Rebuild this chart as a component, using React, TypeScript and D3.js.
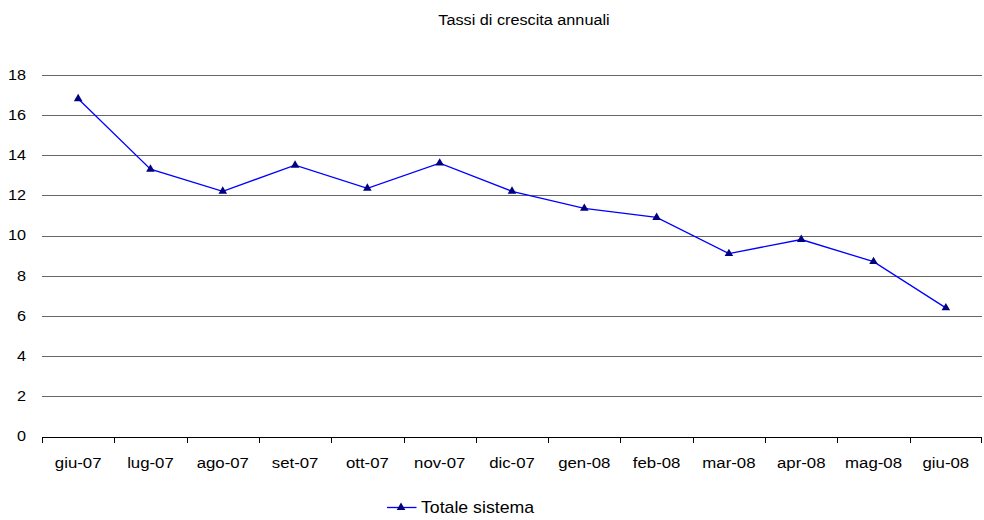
import React from "react";
import * as d3 from "d3";

const categories = ["giu-07","lug-07","ago-07","set-07","ott-07","nov-07","dic-07","gen-08","feb-08","mar-08","apr-08","mag-08","giu-08"];
const values = [16.8, 13.3, 12.2, 13.5, 12.35, 13.6, 12.2, 11.35, 10.9, 9.1, 9.8, 8.7, 6.4];
const yTicks = [0, 2, 4, 6, 8, 10, 12, 14, 16, 18];
const title = "Tassi di crescita annuali";
const seriesName = "Totale sistema";

const W = 984, H = 520;
const left = 42, right = 982, top = 74.7, bottom = 436.5;

export default function App() {
  const x = d3.scaleBand<string>().domain(categories).range([left, right]);
  const y = d3.scaleLinear().domain([0, 18]).range([bottom, top]);
  const line = d3.line<number>().x((_, i) => (x(categories[i]) as number) + x.bandwidth() / 2).y(d => y(d));
  const tri = d3.symbol().type(d3.symbolTriangle).size(32);
  const font = "Liberation Sans, Arial, sans-serif";
  const sx = 1.12;
  return (
    <svg width={W} height={H} style={{ position: "absolute", left: 0, top: 0, background: "#fff" }} fontFamily={font}>
      <text transform={`translate(524,25) scale(${sx},1)`} fontSize={14.5} textAnchor="middle" fill="#000">{title}</text>
      {yTicks.filter(t => t > 0).map(t => (
        <line key={t} x1={left} x2={right} y1={Math.round(y(t)) + 0.5} y2={Math.round(y(t)) + 0.5} stroke="#666" strokeWidth={1} />
      ))}
      <line x1={left} x2={right} y1={Math.round(bottom) + 0.5} y2={Math.round(bottom) + 0.5} stroke="#000" strokeWidth={1} />
      {categories.map((c, i) => (
        <line key={c} x1={Math.round(x(c) as number) + 0.5} x2={Math.round(x(c) as number) + 0.5} y1={Math.round(bottom)} y2={Math.round(bottom) + 6} stroke="#000" />
      ))}
      <line x1={right - 0.5} x2={right - 0.5} y1={Math.round(bottom)} y2={Math.round(bottom) + 6} stroke="#000" />
      {yTicks.map(t => (
        <text key={t} transform={`translate(26,${y(t) + 4.8}) scale(${sx},1)`} fontSize={14.5} textAnchor="end" fill="#000">{t}</text>
      ))}
      {categories.map(c => (
        <text key={c} transform={`translate(${(x(c) as number) + x.bandwidth() / 2},467.5) scale(${sx},1)`} fontSize={15} textAnchor="middle" fill="#000">{c}</text>
      ))}
      <path d={line(values) || ""} fill="none" stroke="#0000ff" strokeWidth={1.3} />
      {values.map((v, i) => (
        <path key={i} d={tri() || ""} transform={`translate(${(x(categories[i]) as number) + x.bandwidth() / 2},${y(v)})`} fill="#000080" />
      ))}
      <line x1={387} x2={416.5} y1={507.5} y2={507.5} stroke="#0000ff" strokeWidth={1.3} />
      <path d={tri() || ""} transform="translate(401,507.5)" fill="#000080" />
      <text transform={`translate(421,513) scale(${sx},1)`} fontSize={15.8} fill="#000">{seriesName}</text>
    </svg>
  );
}
